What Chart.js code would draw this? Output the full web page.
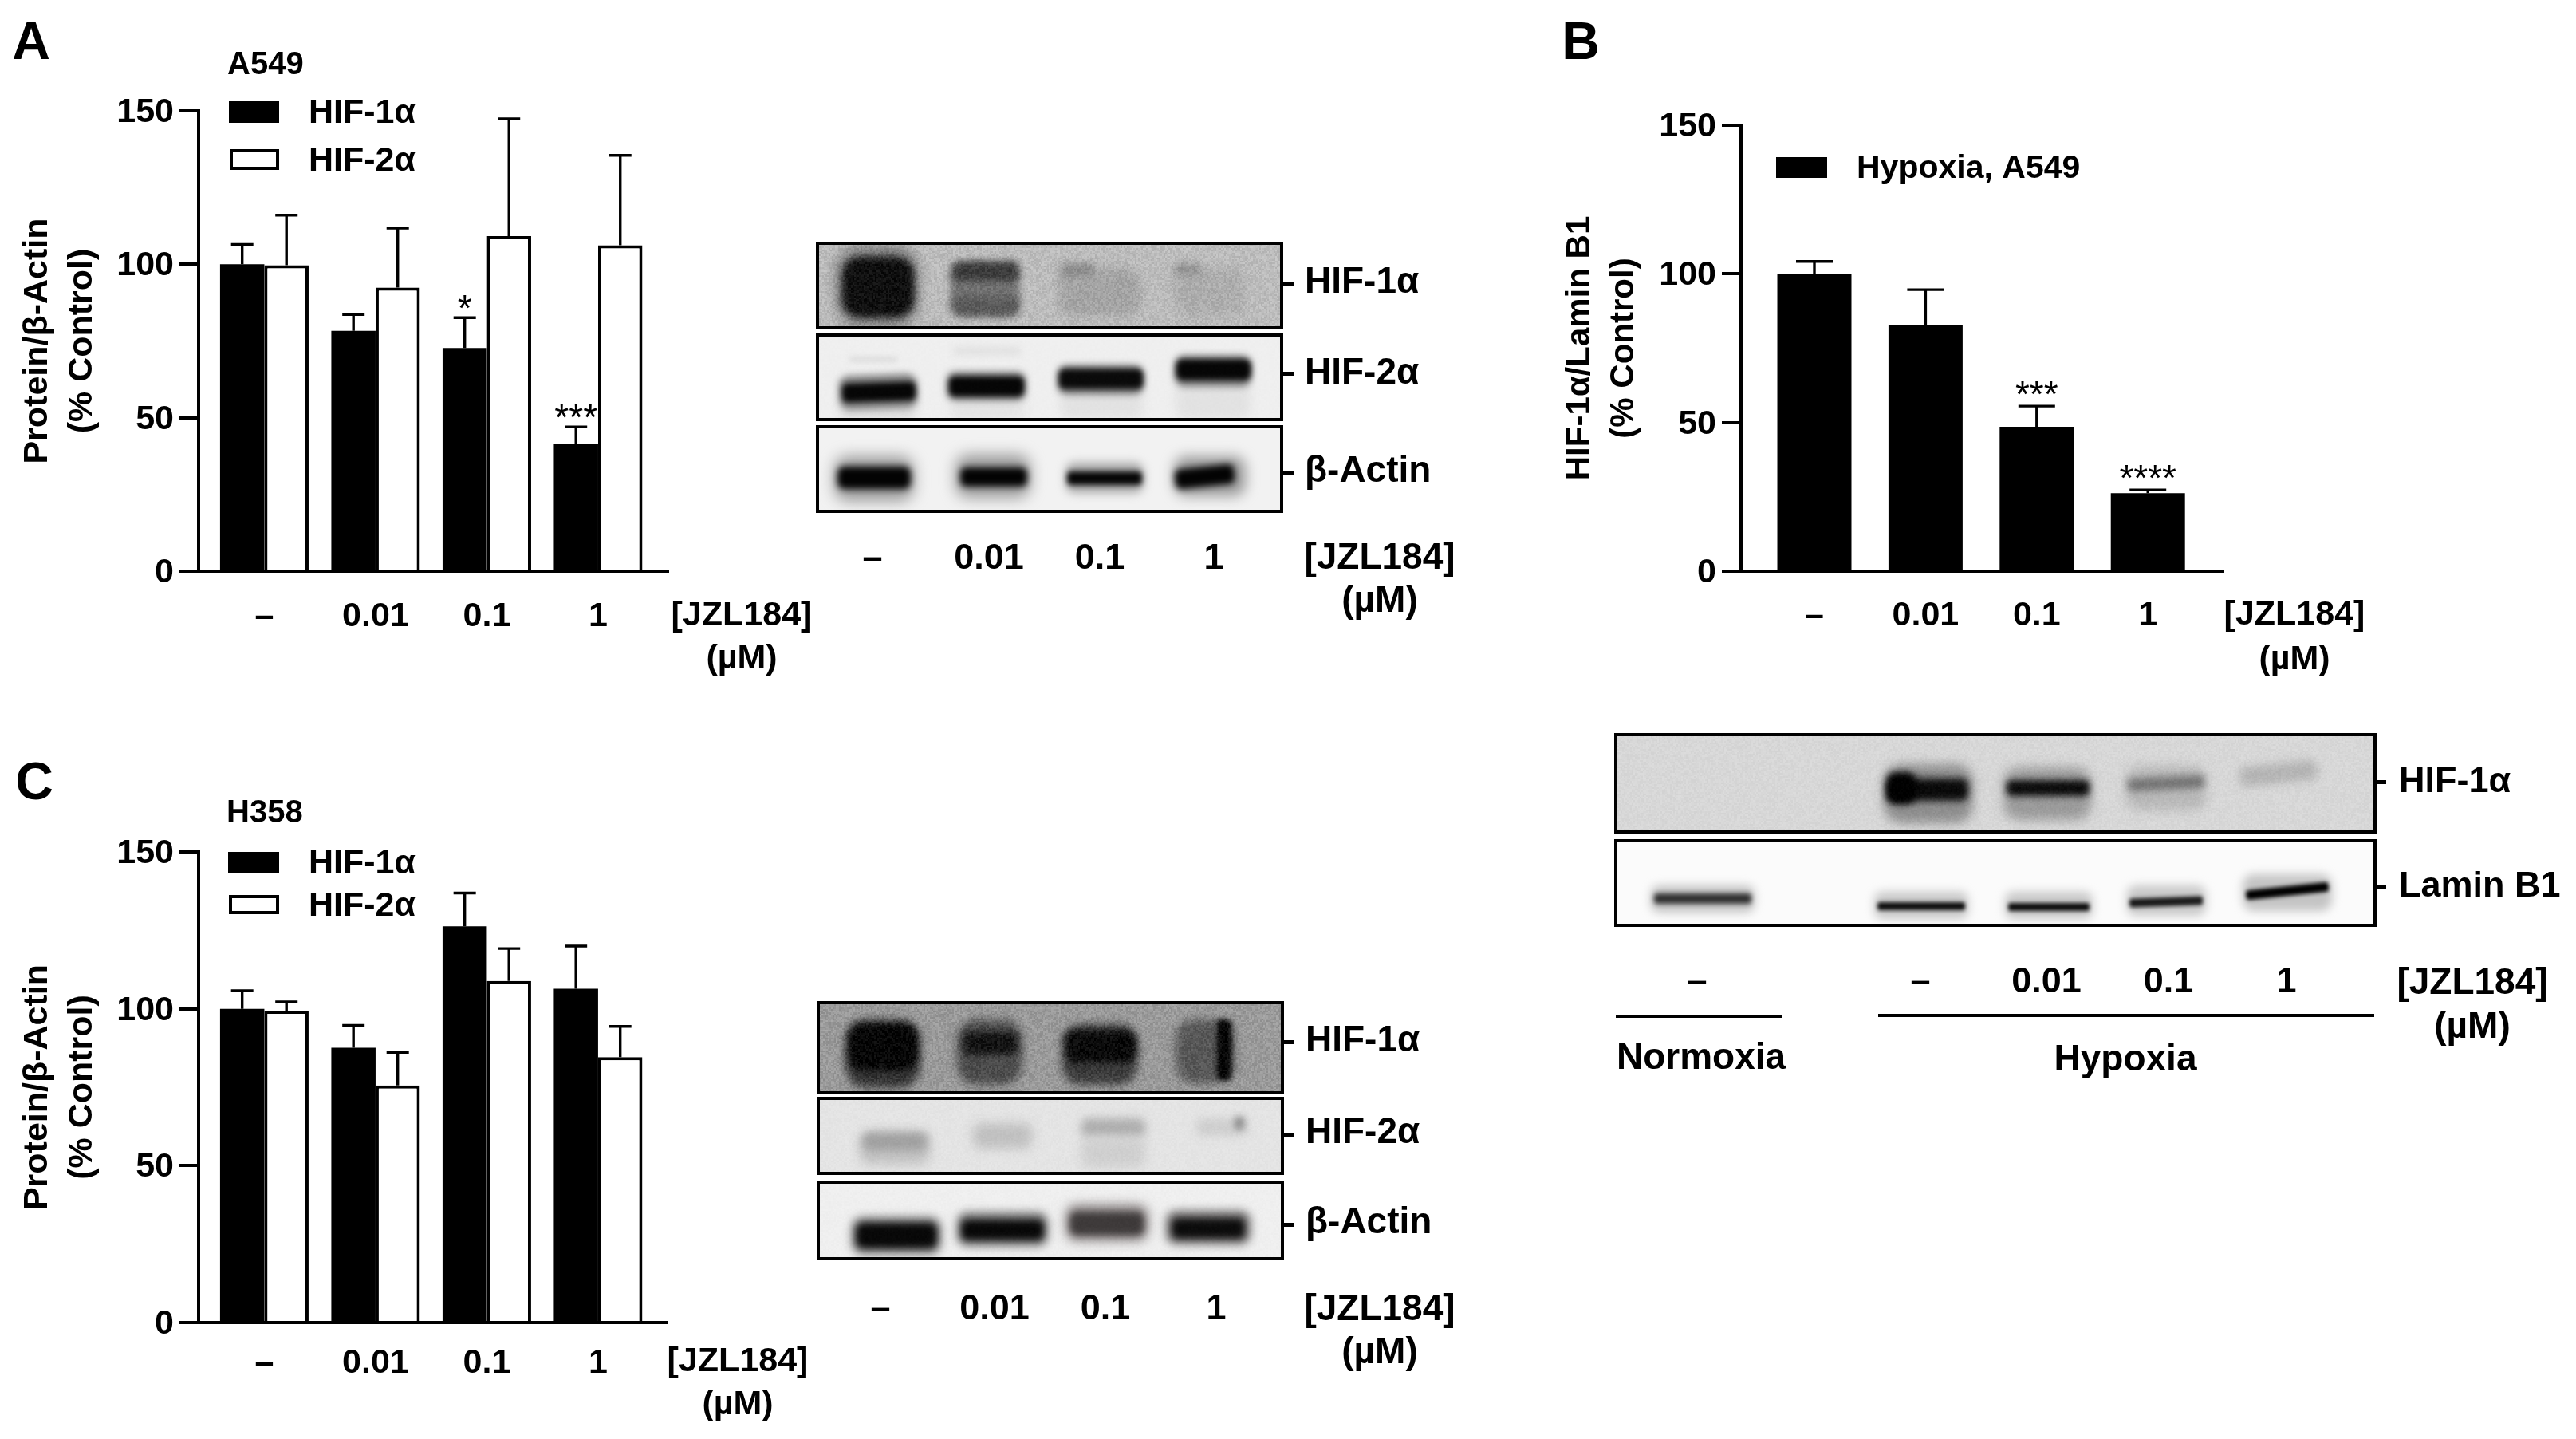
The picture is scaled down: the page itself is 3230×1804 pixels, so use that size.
<!DOCTYPE html>
<html>
<head>
<meta charset="utf-8">
<script src="https://cdn.jsdelivr.net/npm/chart.js@4"></script>
<style>
html,body{margin:0;padding:0;background:#fff;width:3230px;height:1804px;overflow:hidden;}
canvas{position:absolute;display:block;}
.t{position:absolute;font-family:"Liberation Sans";font-weight:bold;color:#000;white-space:nowrap;line-height:1;}
.r{position:absolute;background:#000;}
</style>
</head>
<body>
<canvas id="blots" width="3230" height="1804" style="left:0;top:0"></canvas>
<canvas id="chartA" style="left:0;top:0"></canvas>
<canvas id="chartB" style="left:1930px;top:0"></canvas>
<canvas id="chartC" style="left:0;top:950px"></canvas>
<script>
// ---- data ----
const categories = ['–', '0.01', '0.1', '1'];
const yTicks = [0, 50, 100, 150];

const a549Hif1 = [100, 78.3, 72.7, 41.5];
const a549Hif1Upper = [106.5, 83.6, 82.6, 47];
const a549Hif2 = [99.7, 92.4, 109.2, 106.2];
const a549Hif2Upper = [116, 111.8, 147.4, 135.5];
const a549Sig = ['', '', '*', '***'];

const hypoxiaHif1 = [100, 82.8, 48.6, 26.2];
const hypoxiaHif1Upper = [104.2, 94.7, 55.5, 27.3];
const hypoxiaSig = ['', '', '***', '****'];

const h358Hif1 = [100, 87.6, 126.3, 106.4];
const h358Hif1Upper = [105.8, 94.7, 136.9, 120];
const h358Hif2 = [99.4, 75.6, 108.9, 84.6];
const h358Hif2Upper = [102.2, 86.1, 119.2, 94.4];

const FONT = 'Liberation Sans';
const INK = '#000';

// ---- error bars, significance marks and in-plot legend ----
const annotate = {
  id: 'annotate',
  afterDatasetsDraw(chart) {
    const {ctx, scales} = chart;
    const o = chart.options.plugins.annotate;
    ctx.save();
    ctx.strokeStyle = INK; ctx.fillStyle = INK; ctx.lineWidth = 3.4;
    chart.data.datasets.forEach((ds, d) => {
      const meta = chart.getDatasetMeta(d);
      meta.data.forEach((bar, i) => {
        const top = scales.y.getPixelForValue(ds.upper[i]);
        ctx.beginPath();
        ctx.moveTo(bar.x, bar.y);
        ctx.lineTo(bar.x, top);
        ctx.moveTo(bar.x - o.cap / 2, top);
        ctx.lineTo(bar.x + o.cap / 2, top);
        ctx.stroke();
        if (ds.sig && ds.sig[i]) {
          ctx.font = '46px "' + FONT + '"';
          ctx.textAlign = 'center';
          ctx.textBaseline = 'middle';
          ctx.fillText(ds.sig[i], bar.x, top - o.sigGap);
        }
      });
    });
    ctx.textAlign = 'left';
    ctx.textBaseline = 'middle';
    ctx.font = 'bold ' + o.legendFont + 'px "' + FONT + '"';
    chart.data.datasets.forEach((ds, d) => {
      const s = o.legend[d];
      ctx.fillStyle = ds.backgroundColor;
      ctx.fillRect(s.x, s.y, s.w, s.h);
      if (ds.borderWidth) {
        ctx.lineWidth = ds.borderWidth;
        ctx.strokeRect(s.x + 2, s.y + 2, s.w - 4, s.h - 4);
      }
      ctx.fillStyle = INK;
      ctx.fillText(ds.label, s.tx, s.y + s.h / 2 + 2);
    });
    if (o.heading) {
      ctx.font = 'bold 40px "' + FONT + '"';
      ctx.fillText(o.heading.text, o.heading.x, o.heading.y);
    }
    ctx.restore();
  }
};

function makeChart(id, spec) {
  const el = document.getElementById(id);
  el.width = spec.w; el.height = spec.h;
  el.style.width = spec.w + 'px'; el.style.height = spec.h + 'px';
  return new Chart(el, {
    type: 'bar',
    plugins: [annotate],
    data: {
      datasets: spec.series.map(s => ({
        label: s.label,
        data: s.values.map((v, i) => ({x: i, y: v})),
        upper: s.upper,
        sig: s.sig,
        backgroundColor: s.hollow ? '#fff' : INK,
        borderColor: INK,
        borderWidth: s.hollow ? 4 : 0,
        categoryPercentage: spec.groupShare,
        barPercentage: 1
      }))
    },
    options: {
      responsive: false,
      animation: false,
      devicePixelRatio: 1,
      layout: {padding: {top: spec.top, right: spec.right, left: 0, bottom: 0}},
      plugins: {
        legend: {display: false},
        tooltip: {enabled: false},
        annotate: {cap: spec.cap, legend: spec.legend, heading: spec.heading, legendFont: spec.legendFont, sigGap: spec.sigGap}
      },
      scales: {
        x: {
          type: 'linear', offset: false, bounds: 'data',
          min: spec.xMin, max: spec.xMax,
          afterBuildTicks: s => { s.ticks = categories.map((c, i) => ({value: i})); },
          afterFit: s => { s.height = spec.xHeight; },
          grid: {display: false, drawTicks: false, offset: false},
          border: {display: true, width: 4, color: INK},
          ticks: {
            autoSkip: false, maxRotation: 0, minRotation: 0, padding: spec.xPad, color: INK,
            font: {family: FONT, weight: 'bold', size: 43},
            callback: v => categories[v]
          }
        },
        y: {
          type: 'linear', min: 0, max: 150, bounds: 'data',
          afterBuildTicks: s => { s.ticks = yTicks.map(v => ({value: v})); },
          afterFit: s => { s.width = spec.yWidth; },
          grid: {drawOnChartArea: false, drawTicks: true, tickLength: 24, tickWidth: 4, lineWidth: 4, color: INK},
          border: {display: true, width: 4, color: INK},
          ticks: {padding: 7, labelOffset: 2, color: INK, font: {family: FONT, weight: 'bold', size: 43}},
          title: {
            display: true, text: spec.yTitle, color: INK,
            font: {family: FONT, weight: 'bold', size: spec.titleFont, lineHeight: spec.titleLead},
            padding: {top: spec.titlePad, bottom: 0}
          }
        }
      }
    }
  });
}

makeChart('chartA', {
  w: 900, h: 850, top: 139, right: 62, yWidth: 249, xHeight: 134, xPad: 31,
  xMin: -0.591, xMax: 3.631, groupShare: 0.796, cap: 28, legendFont: 43, sigGap: 9,
  titleFont: 43, titleLead: 1.31, titlePad: 19,
  yTitle: ['Protein/β-Actin', '(% Control)'],
  heading: {text: 'A549', x: 285, y: 82},
  legend: [{x: 287, y: 127, w: 63, h: 27, tx: 387}, {x: 288, y: 187, w: 62, h: 26, tx: 387}],
  series: [
    {label: 'HIF-1α', values: a549Hif1, upper: a549Hif1Upper, sig: a549Sig},
    {label: 'HIF-2α', values: a549Hif2, upper: a549Hif2Upper, hollow: true}
  ]
});

makeChart('chartB', {
  w: 900, h: 850, top: 157, right: 42, yWidth: 253, xHeight: 134, xPad: 30,
  xMin: -0.66, xMax: 3.68, groupShare: 0.667, cap: 46, legendFont: 41, sigGap: 12,
  titleFont: 42, titleLead: 1.31, titlePad: 24,
  yTitle: ['HIF-1α/Lamin B1', '(% Control)'],
  legend: [{x: 297, y: 197, w: 64, h: 26, tx: 398}],
  series: [
    {label: 'Hypoxia, A549', values: hypoxiaHif1, upper: hypoxiaHif1Upper, sig: hypoxiaSig}
  ]
});

makeChart('chartC', {
  w: 900, h: 854, top: 118, right: 64, yWidth: 249, xHeight: 146, xPad: 25,
  xMin: -0.591, xMax: 3.617, groupShare: 0.796, cap: 28, legendFont: 43, sigGap: 9,
  titleFont: 43, titleLead: 1.31, titlePad: 19,
  yTitle: ['Protein/β-Actin', '(% Control)'],
  heading: {text: 'H358', x: 284, y: 70},
  legend: [{x: 286, y: 118, w: 64, h: 26, tx: 387}, {x: 287, y: 172, w: 63, h: 24, tx: 387}],
  series: [
    {label: 'HIF-1α', values: h358Hif1, upper: h358Hif1Upper},
    {label: 'HIF-2α', values: h358Hif2, upper: h358Hif2Upper, hollow: true}
  ]
});

// ---- western blot panels (illustrative photographs, not chart data) ----
function hash(x, y) {
  const s = Math.sin(x * 12.9898 + y * 78.233) * 43758.5453;
  return s - Math.floor(s);
}
const page = document.getElementById('blots').getContext('2d');
function blot(box, bg, grain, bands) {
  const [x0, y0, x1, y1] = box;
  const w = x1 - x0, h = y1 - y0;
  const c = document.createElement('canvas');
  c.width = w; c.height = h;
  const g = c.getContext('2d');
  g.fillStyle = bg; g.fillRect(0, 0, w, h);
  g.translate(-x0, -y0);
  bands.forEach(([a, b, p, q, col, blur, tilt]) => {
    g.save();
    g.filter = 'blur(' + blur + 'px)';
    g.fillStyle = col;
    g.translate((a + p) / 2, (b + q) / 2);
    g.rotate((tilt || 0) * Math.PI / 180);
    g.beginPath();
    g.roundRect((a - p) / 2, (b - q) / 2, p - a, q - b, Math.min(p - a, q - b) * 0.3);
    g.fill();
    g.restore();
  });
  if (grain) {
    const im = g.getImageData(0, 0, w, h), d = im.data;
    for (let j = 0; j < h; j++) for (let i = 0; i < w; i++) {
      const n = (hash(Math.floor(i / 2), Math.floor(j / 2)) - 0.5) * grain;
      const k = (j * w + i) * 4;
      d[k] += n; d[k + 1] += n; d[k + 2] += n;
    }
    g.putImageData(im, 0, 0);
  }
  page.drawImage(c, x0, y0);
  page.strokeStyle = INK; page.lineWidth = 4;
  page.strokeRect(x0, y0, w, h);
}

// Panel A
blot([1025, 305, 1607, 411], '#bcbcbc', 26, [
  [1048, 308, 1152, 410, '#7a7a7a', 8],
  [1056, 322, 1146, 398, '#101010', 5],
  [1192, 330, 1278, 396, '#727272', 5],
  [1194, 328, 1278, 352, '#3c3c3c', 5],
  [1194, 372, 1278, 396, '#5a5a5a', 5],
  [1327, 336, 1430, 396, '#a4a4a4', 6],
  [1330, 330, 1372, 346, '#8a8a8a', 5],
  [1471, 336, 1560, 396, '#adadad', 6],
  [1472, 330, 1506, 346, '#939393', 5]
]);
blot([1025, 420, 1607, 526], '#efefef', 2, [
  [1054, 495, 1148, 526, '#dcdcdc', 6],
  [1192, 490, 1284, 526, '#e4e4e4', 6],
  [1330, 487, 1433, 526, '#e2e2e2', 6],
  [1474, 476, 1568, 526, '#e2e2e2', 6],
  [1065, 447, 1125, 454, '#dddddd', 3],
  [1195, 434, 1280, 446, '#e2e2e2', 4],
  [1052, 470, 1150, 512, '#7c7c7c', 5, -2],
  [1056, 480, 1148, 503, '#060606', 3.5, -2],
  [1187, 466, 1286, 502, '#7c7c7c', 5],
  [1190, 472, 1284, 497, '#060606', 3.5],
  [1326, 458, 1434, 494, '#6c6c6c', 5],
  [1328, 463, 1433, 487, '#0a0a0a', 3.5],
  [1473, 446, 1569, 484, '#6c6c6c', 5],
  [1475, 451, 1568, 476, '#060606', 3.5]
]);
blot([1025, 535, 1607, 641], '#f2f2f2', 1, [
  [1046, 572, 1146, 628, '#9a9a9a', 9],
  [1050, 585, 1142, 613, '#030303', 4],
  [1198, 570, 1292, 624, '#9a9a9a', 9],
  [1204, 586, 1288, 610, '#030303', 4],
  [1336, 580, 1434, 618, '#a8a8a8', 6],
  [1338, 591, 1432, 608, '#060606', 3.5],
  [1472, 572, 1562, 622, '#9a9a9a', 8],
  [1473, 585, 1548, 610, '#030303', 4, -6]
]);

// Panel B
blot([2026, 921, 2978, 1043], '#d7d7d7', 10, [
  [2362, 958, 2474, 1032, '#8e8e8e', 7],
  [2366, 976, 2468, 1004, '#0a0a0a', 5],
  [2366, 968, 2402, 1008, '#000000', 5],
  [2512, 962, 2622, 1028, '#9a9a9a', 7],
  [2516, 978, 2620, 998, '#0c0c0c', 4],
  [2666, 960, 2766, 1016, '#b8b8b8', 7],
  [2668, 974, 2764, 990, '#747474', 5, -3],
  [2808, 957, 2906, 982, '#b4b4b4', 6, -6]
]);
blot([2026, 1054, 2978, 1160], '#fbfbfb', 0, [
  [2070, 1110, 2200, 1144, '#c4c4c4', 6],
  [2074, 1120, 2196, 1133, '#303030', 3],
  [2350, 1118, 2468, 1152, '#c8c8c8', 6],
  [2354, 1131, 2464, 1141, '#0e0e0e', 2.5],
  [2514, 1118, 2624, 1152, '#c8c8c8', 6],
  [2518, 1132, 2620, 1142, '#0e0e0e', 2.5],
  [2667, 1110, 2766, 1148, '#c8c8c8', 6],
  [2670, 1125, 2762, 1136, '#1a1a1a', 2.5, -2],
  [2812, 1096, 2924, 1142, '#c4c4c4', 6],
  [2816, 1111, 2920, 1123, '#000000', 2.5, -6]
]);

// Panel C
blot([1026, 1257, 1608, 1370], '#9a9a9a', 30, [
  [1060, 1278, 1154, 1364, '#343434', 6],
  [1064, 1284, 1150, 1342, '#060606', 5],
  [1200, 1278, 1282, 1360, '#4c4c4c', 6],
  [1208, 1294, 1276, 1322, '#141414', 5],
  [1332, 1284, 1426, 1360, '#3c3c3c', 6],
  [1336, 1292, 1424, 1332, '#0a0a0a', 5],
  [1474, 1278, 1548, 1358, '#585858', 6],
  [1526, 1278, 1544, 1354, '#060606', 3]
]);
blot([1026, 1377, 1608, 1471], '#e4e4e4', 6, [
  [1078, 1420, 1166, 1460, '#c2c2c2', 7],
  [1082, 1420, 1162, 1442, '#a0a0a0', 6],
  [1220, 1408, 1294, 1440, '#c0c0c0', 7],
  [1356, 1402, 1436, 1426, '#aeaeae', 6],
  [1356, 1426, 1436, 1464, '#cfcfcf', 7],
  [1500, 1402, 1564, 1424, '#cecece', 6],
  [1548, 1400, 1560, 1416, '#8e8e8e', 4]
]);
blot([1026, 1482, 1608, 1578], '#efefef', 4, [
  [1068, 1526, 1180, 1572, '#6c6c6c', 6],
  [1074, 1534, 1174, 1564, '#080808', 4],
  [1200, 1520, 1314, 1562, '#6c6c6c', 6],
  [1206, 1530, 1308, 1554, '#080808', 4],
  [1336, 1510, 1440, 1556, '#8a8484', 7],
  [1342, 1520, 1434, 1548, '#3e3a3a', 4],
  [1462, 1518, 1568, 1560, '#6c6a6a', 6],
  [1470, 1528, 1560, 1552, '#0c0c0c', 4]
]);

// ---- page-level text and rule marks ----
function text(str, x, y, size, align) {
  const d = document.createElement('div');
  d.className = 't';
  d.textContent = str;
  d.style.left = x + 'px';
  d.style.top = y + 'px';
  d.style.fontSize = size + 'px';
  d.style.transform = align === 'left' ? 'translateY(-50%)' : 'translate(-50%,-50%)';
  document.body.appendChild(d);
}
function rule(x, y, w, h) {
  const d = document.createElement('div');
  d.className = 'r';
  d.style.cssText += `left:${x}px;top:${y}px;width:${w}px;height:${h}px`;
  document.body.appendChild(d);
}
const blotSize = 45;
function unit(x, y1, y2, size) {
  text('[JZL184]', x, y1, size);
  text('(µM)', x, y2, size);
}
text('A', 39, 51, 66);
text('B', 1982, 51, 66);
text('C', 43, 979, 66);

unit(930, 769, 823, 43);
unit(2877, 768, 824, 43);
unit(925, 1704, 1758, 43);
unit(1730, 697, 751, 46);
unit(1730, 1639, 1693, 46);
unit(3100, 1230, 1285, 46);

[['HIF-1α', 351, 355], ['HIF-2α', 465, 468], ['β-Actin', 588, 592]].forEach(([s, ty, my]) => {
  text(s, 1636, ty, 46, 'left');
  rule(1607, my - 2, 15, 5);
});
[['HIF-1α', 1302, 1306], ['HIF-2α', 1417, 1422], ['β-Actin', 1530, 1535]].forEach(([s, ty, my]) => {
  text(s, 1637, ty, 46, 'left');
  rule(1608, my - 2, 15, 5);
});
[['HIF-1α', 977, 980], ['Lamin B1', 1108, 1111]].forEach(([s, ty, my]) => {
  text(s, 3008, ty, 45, 'left');
  rule(2978, my - 2, 14, 5);
});
[1094, 1240, 1379, 1522].forEach((x, i) => text(categories[i], x, 697, blotSize));
[1104, 1247, 1386, 1525].forEach((x, i) => text(categories[i], x, 1638, blotSize));
[2408, 2566, 2719, 2867].forEach((x, i) => text(categories[i], x, 1228, blotSize));
text(categories[0], 2128, 1228, blotSize);

rule(2026, 1272, 209, 4);
rule(2355, 1271, 622, 4);
text('Normoxia', 2133, 1324, 46);
text('Hypoxia', 2665, 1326, 46);
</script>
</body>
</html>
